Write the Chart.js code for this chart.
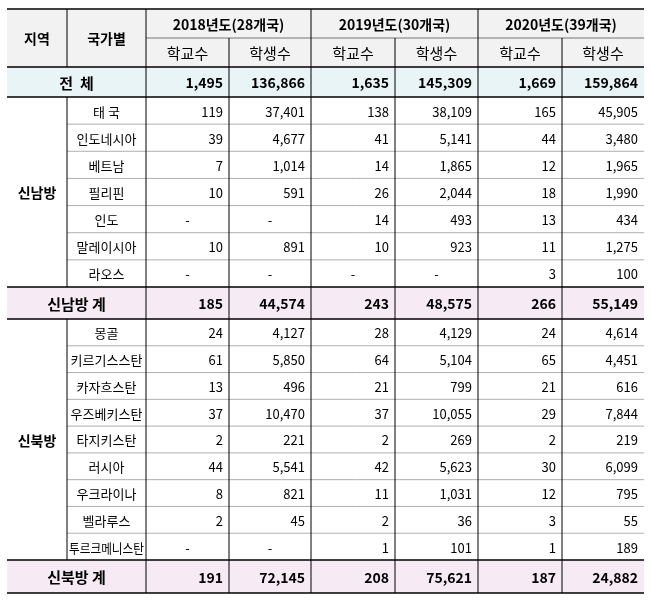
<!DOCTYPE html>
<html><head><meta charset="utf-8">
<script src="https://cdn.jsdelivr.net/npm/chart.js@4"></script>
<style>body{margin:0;background:#fff}#w{width:651px;height:600px}</style>
</head><body><div id="w"><canvas id="c"></canvas></div>
<script>
const years = ['2018년도(28개국)','2019년도(30개국)','2020년도(39개국)'];
const subHeads = ['학교수','학생수'];
const totalLabel = '전  체';
const totalVals = [1495,136866,1635,145309,1669,159864];
const southRegion = '신남방';
const southCountries = ['태 국','인도네시아','베트남','필리핀','인도','말레이시아','라오스'];
const southVals = [
 [119,37401,138,38109,165,45905],
 [39,4677,41,5141,44,3480],
 [7,1014,14,1865,12,1965],
 [10,591,26,2044,18,1990],
 [null,null,14,493,13,434],
 [10,891,10,923,11,1275],
 [null,null,null,null,3,100]];
const southTotal = [185,44574,243,48575,266,55149];
const northRegion = '신북방';
const northCountries = ['몽골','키르기스스탄','카자흐스탄','우즈베키스탄','타지키스탄','러시아','우크라이나','벨라루스','투르크메니스탄'];
const northVals = [
 [24,4127,28,4129,24,4614],
 [61,5850,64,5104,65,4451],
 [13,496,21,799,21,616],
 [37,10470,37,10055,29,7844],
 [2,221,2,269,2,219],
 [44,5541,42,5623,30,6099],
 [8,821,11,1031,12,795],
 [2,45,2,36,3,55],
 [null,null,1,101,1,189]];
const northTotal = [191,72145,208,75621,187,24882];

// layout (scale units)
const colX = [7,67,146,229,311,395,478,562,644];
const hdrY = [9,38,67,97];
const southTop = 97, southBot = 287, northTop = 319, northBot = 560, endY = 593;
const fmt = v => v==null ? '-' : v.toLocaleString('en-US');
const KR = '"Noto Sans CJK KR", sans-serif';

const tablePlugin = { id:'table', afterDraw(chart){
  const ctx = chart.ctx, xs = chart.scales.x, ys = chart.scales.y;
  const X = v=>xs.getPixelForValue(v), Y = v=>ys.getPixelForValue(v);
  const rect=(x0,y0,x1,y1,c)=>{ctx.fillStyle=c;ctx.fillRect(X(x0),Y(y0),X(x1)-X(x0),Y(y1)-Y(y0));};
  const line=(x0,y0,x1,y1,c,w)=>{ctx.strokeStyle=c;ctx.lineWidth=w;ctx.beginPath();ctx.moveTo(X(x0),Y(y0));ctx.lineTo(X(x1),Y(y1));ctx.stroke();};
  const text=(t,x0,x1,y0,y1,font,align)=>{ctx.font=font;ctx.fillStyle='#000';ctx.textBaseline='middle';
    let x; if(align==='right'){ctx.textAlign='right';x=X(x1)-6;}else{ctx.textAlign='center';x=(X(x0)+X(x1))/2;}
    ctx.fillText(t,x,(Y(y0)+Y(y1))/2+1);};
  const hb = 'bold 14px '+KR, nb='bold 14px '+KR, body='13px '+KR;
  // backgrounds
  rect(colX[0],hdrY[0],colX[8],hdrY[2],'#f2f2f2');
  rect(colX[0],hdrY[2],colX[8],hdrY[3],'#e9f4f6');
  rect(colX[0],southBot,colX[8],northTop,'#f6ebf4');
  rect(colX[0],northBot,colX[8],endY,'#f6ebf4');
  // header text
  text('지역',colX[0],colX[1],hdrY[0],hdrY[2],hb);
  text('국가별',colX[1],colX[2],hdrY[0],hdrY[2],hb);
  years.forEach((y,i)=>{text(y,colX[2+2*i],colX[4+2*i],hdrY[0],hdrY[1],hb);
    subHeads.forEach((s,j)=>text(s,colX[2+2*i+j],colX[3+2*i+j],hdrY[1],hdrY[2],'15px '+KR));});
  const sumRow=(label,vals,y0,y1)=>{text(label,colX[0],colX[2],y0,y1,'bold 15px '+KR);
    vals.forEach((v,k)=>text(fmt(v),colX[2+k],colX[3+k],y0,y1,nb,'right'));};
  sumRow(totalLabel,totalVals,hdrY[2],hdrY[3]);
  sumRow('신남방 계',southTotal,southBot,northTop);
  sumRow('신북방 계',northTotal,northBot,endY);
  const group=(region,names,vals,top,bot)=>{
    const h=(bot-top)/names.length;
    text(region,colX[0],colX[1],top,bot,'bold 14px '+KR);
    names.forEach((n,r)=>{const y0=top+r*h,y1=y0+h;
      ctx.save();ctx.font=body;const w=ctx.measureText(n).width;ctx.restore();
      const avail=X(colX[2])-X(colX[1])-4;
      if(w>avail){ctx.save();const cx=(X(colX[1])+X(colX[2]))/2;ctx.translate(cx,0);ctx.scale(avail/w,1);ctx.translate(-cx,0);text(n,colX[1],colX[2],y0,y1,body);ctx.restore();}
      else text(n,colX[1],colX[2],y0,y1,body);
      vals[r].forEach((v,k)=>text(fmt(v),colX[2+k],colX[3+k],y0,y1,body,v==null?'center':'right'));
      if(r>0) line(colX[1],y0,colX[8],y0,'#9a9a9a',0.8);
    });
  };
  group(southRegion,southCountries,southVals,southTop,southBot);
  group(northRegion,northCountries,northVals,northTop,northBot);
  // header internal lines
  line(colX[2],hdrY[1],colX[8],hdrY[1],'#555',0.8);
  // vertical lines
  for(let i=1;i<8;i++){
    const full = i!==1;
    if(i===3||i===5||i===7){ line(colX[i],hdrY[1],colX[i],endY,'#000',1); }
    else if(i===1){ line(colX[1],hdrY[0],colX[1],hdrY[2],'#000',1); line(colX[1],southTop,colX[1],southBot,'#000',1); line(colX[1],northTop,colX[1],northBot,'#000',1);}
    else line(colX[i],hdrY[0],colX[i],endY,'#000',1);
  }
  // thick horizontal
  [hdrY[0],hdrY[2],hdrY[3],southBot,northTop,northBot,endY].forEach(y=>line(colX[0],y,colX[8],y,'#000',1.5));
}};

new Chart(document.getElementById('c'),{
  type:'scatter',
  data:{datasets:[{data:[]}]},
  options:{responsive:true,maintainAspectRatio:false,animation:false,
    layout:{padding:0},
    plugins:{legend:{display:false},tooltip:{enabled:false}},
    scales:{x:{type:'linear',min:0,max:651,display:false},
            y:{type:'linear',min:0,max:600,reverse:true,display:false}}},
  plugins:[tablePlugin]
});
</script></body></html>
